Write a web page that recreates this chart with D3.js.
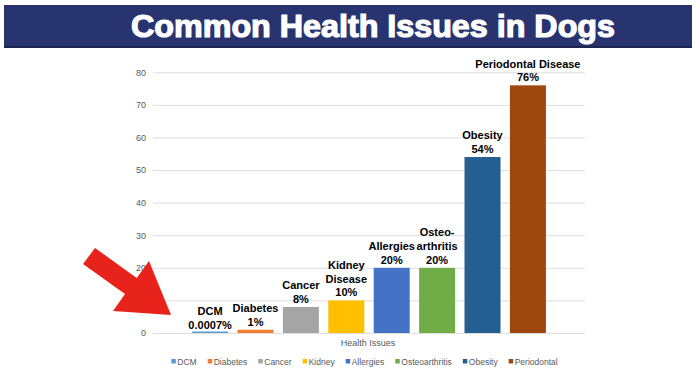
<!DOCTYPE html>
<html>
<head>
<meta charset="utf-8">
<script src="https://cdn.jsdelivr.net/npm/d3@7"></script>
<style>
  body { margin: 0; background: #fff; }
  svg { display: block; font-family: "Liberation Sans", Arial, Helvetica, sans-serif; }
</style>
</head>
<body>
<div id="chart"></div>
<script>
var categories = ["DCM", "Diabetes", "Cancer", "Kidney", "Allergies", "Osteoarthritis", "Obesity", "Periodontal"];
var values = [0.0007, 1, 8, 10, 20, 20, 54, 76];
var barLabels = [
  ["DCM", "0.0007%"],
  ["Diabetes", "1%"],
  ["Cancer", "8%"],
  ["Kidney", "Disease", "10%"],
  ["Allergies", "20%"],
  ["Osteo-", "arthritis", "20%"],
  ["Obesity", "54%"],
  ["Periodontal Disease", "76%"]
];
var colors = ["#5b9bd5", "#ed7d31", "#a5a5a5", "#ffc000", "#4472c4", "#70ad47", "#255e91", "#9e480e"];
var yTicks = [0, 10, 20, 30, 40, 50, 60, 70, 80];

var W = 700, H = 381;
var plot = { left: 153, right: 585, top: 72.3, bottom: 333 };

let svg = d3.select("#chart")
  .append("svg")
  .attr("width", W)
  .attr("height", H);

// header band
svg.append("rect")
  .attr("x", 4).attr("y", 5)
  .attr("width", 688).attr("height", 43)
  .attr("fill", "#1b2550");
svg.append("rect")
  .attr("x", 4).attr("y", 5)
  .attr("width", 688).attr("height", 41)
  .attr("fill", "#27346f");
svg.append("text")
  .attr("x", 373).attr("y", 37)
  .attr("text-anchor", "middle")
  .attr("font-size", 31)
  .attr("font-weight", "bold")
  .attr("fill", "#fff")
  .attr("stroke", "#fff")
  .attr("stroke-width", 1.2)
  .attr("textLength", 484)
  .attr("lengthAdjust", "spacingAndGlyphs")
  .text("Common Health Issues in Dogs");

let x = d3.scaleBand()
  .domain(categories)
  .range([plot.left, plot.right])
  .paddingInner(0.207)
  .paddingOuter(0.861);

let y = d3.scaleLinear().domain([0, 80]).range([plot.bottom, plot.top]);

// grid + y labels
let yAxis = svg.append("g")
  .attr("transform", "translate(" + plot.left + ",0)")
  .call(d3.axisLeft(y).tickValues(yTicks).tickSize(-(plot.right - plot.left)).tickPadding(7));
yAxis.select(".domain").remove();
yAxis.selectAll(".tick line").attr("stroke", "#dedede").attr("stroke-width", 1);
yAxis.selectAll(".tick text")
  .attr("fill", "#595959")
  .attr("font-size", 9)
  .attr("font-family", "Liberation Sans, Arial, sans-serif");

// bars
svg.append("g").selectAll("rect")
  .data(categories)
  .join("rect")
  .attr("x", d => x(d))
  .attr("width", x.bandwidth())
  .attr("y", (d, i) => Math.min(y(values[i]), plot.bottom - 1.5))
  .attr("height", (d, i) => Math.max(plot.bottom - y(values[i]), 1.5))
  .attr("fill", (d, i) => colors[i]);

// data labels
let lineH = 13.7;
let lbl = svg.append("g")
  .attr("font-size", 11)
  .attr("font-weight", "bold")
  .attr("fill", "#000")
  .attr("text-anchor", "middle");
categories.forEach(function (c, i) {
  let lines = barLabels[i];
  let base = y(values[i]) - 4;
  let cx = x(c) + x.bandwidth() / 2;
  lines.forEach(function (t, j) {
    lbl.append("text")
      .attr("x", cx)
      .attr("y", base - (lines.length - 1 - j) * lineH)
      .text(t);
  });
});

// x axis title
svg.append("text")
  .attr("x", (plot.left + plot.right) / 2 - 1)
  .attr("y", 346)
  .attr("text-anchor", "middle")
  .attr("font-size", 9)
  .attr("fill", "#595959")
  .text("Health Issues");

// legend
let legend = svg.append("g").attr("font-size", 8.5).attr("fill", "#595959");
let items = [];
let cursor = 0;
categories.forEach(function (c, i) {
  let g = legend.append("g");
  g.append("rect").attr("x", 0).attr("y", -5.5).attr("width", 4.5).attr("height", 4.5).attr("fill", colors[i]);
  let t = g.append("text").attr("x", 6).attr("y", 0).text(c);
  let w = 6 + t.node().getComputedTextLength();
  items.push({ g: g, x: cursor });
  cursor += w + 11;
});
let totalW = cursor - 11;
let startX = 364.5 - totalW / 2;
items.forEach(function (it) {
  it.g.attr("transform", "translate(" + (startX + it.x) + ",364.5)");
});

// red arrow
let arrow = [[95, 248], [136.7, 278], [149, 261], [171, 315], [113, 311], [125, 294], [83, 264]];
svg.append("polygon")
  .attr("points", arrow.map(p => p.join(",")).join(" "))
  .attr("fill", "#e8231b");
</script>
</body>
</html>
